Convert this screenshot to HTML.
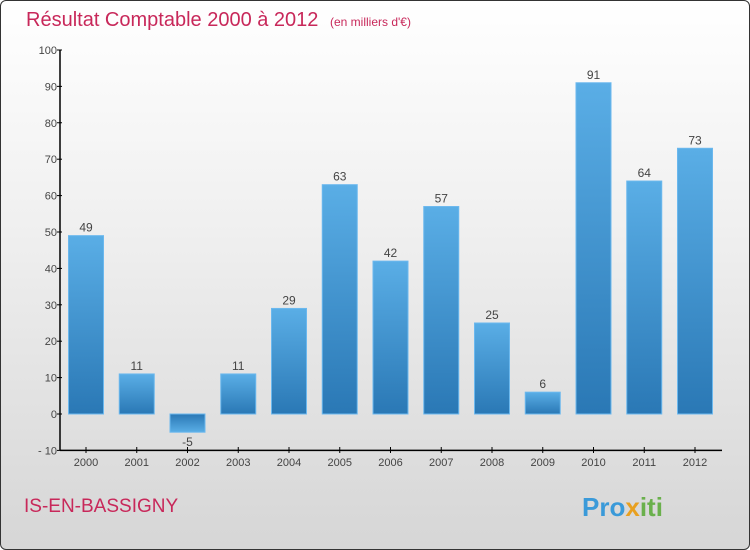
<!DOCTYPE html>
<html><head><meta charset="utf-8"><style>
body{margin:0}
#c{width:748px;height:548px;border:1px solid #333;border-radius:6px;background:linear-gradient(#fff,#f0f0f0 40%,#d6d6d6);position:relative;overflow:hidden;font-family:"Liberation Sans",sans-serif}
</style></head><body>
<div id="c">
<svg id="s" width="748" height="548" style="position:absolute;left:-1px;top:-1px">
<defs><linearGradient id="g" x1="0" y1="0" x2="0" y2="1"><stop offset="0" stop-color="#5aaee6"/><stop offset="1" stop-color="#2a78b5"/></linearGradient>
<linearGradient id="gn" x1="0" y1="0" x2="0" y2="1"><stop offset="0" stop-color="#2a78b5"/><stop offset="1" stop-color="#5aaee6"/></linearGradient></defs>
<text x="26" y="26" font-size="20" fill="#c8285a">Résultat Comptable 2000 à 2012 <tspan font-size="12" dx="6">(en milliers d'€)</tspan></text>
<text x="24" y="512" font-size="19" fill="#c8285a">IS-EN-BASSIGNY</text>
<text x="582" y="516" font-size="26" font-weight="bold" fill="#3a9ad9"><tspan fill="#3a9ad9">Pro</tspan><tspan fill="#e8a020">x</tspan><tspan fill="#6ab04c">iti</tspan></text>
<g id="plot"></g>
</svg>
</div>
<script>
const categories=["2000","2001","2002","2003","2004","2005","2006","2007","2008","2009","2010","2011","2012"];
const values=[49,11,-5,11,29,63,42,57,25,6,91,64,73];
const yTicks=[-10,0,10,20,30,40,50,60,70,80,90,100];
const NS="http://www.w3.org/2000/svg";
const g=document.getElementById('plot');
const y=v=>414-v*3.64;
const x=i=>86+i*50.75;
function el(t,a,txt){const e=document.createElementNS(NS,t);for(const k in a)e.setAttribute(k,a[k]);if(txt!==undefined)e.textContent=txt;g.appendChild(e);return e;}
categories.forEach((c,i)=>{
 const v=values[i];const top=y(Math.max(v,0)),bot=y(Math.min(v,0));
 const r=el('rect',{x:x(i)-17.5,y:top,width:35,height:bot-top,fill:v<0?'url(#gn)':'url(#g)',stroke:'#6bb8ee','stroke-width':1});
 
 
 const t=el('text',{x:x(i),y:v<0?bot+14:top-4,'text-anchor':'middle','font-size':12,fill:'#444'},String(v));
 
 
 const tk=el('line',{x1:x(i),x2:x(i),y1:447,y2:453,stroke:'#000'});
 
 
 const xl=el('text',{x:x(i),y:466,'text-anchor':'middle','font-size':11,fill:'#444'},c);
 
 
});
yTicks.forEach(v=>{
 const l=el('line',{x1:57,x2:62,y1:y(v),y2:y(v),stroke:'#000'});
 
 
 const t=el('text',{x:57,y:y(v)+4,'text-anchor':'end','font-size':11,fill:'#444'},v<0?'- '+(-v):String(v));
 
 
});
const ya=el('line',{x1:60,x2:60,y1:y(100),y2:y(-10),stroke:'#000','stroke-width':1.5});


const xa=el('line',{x1:60,x2:722,y1:y(-10),y2:y(-10),stroke:'#000','stroke-width':1.5});


</script>
</body></html>
